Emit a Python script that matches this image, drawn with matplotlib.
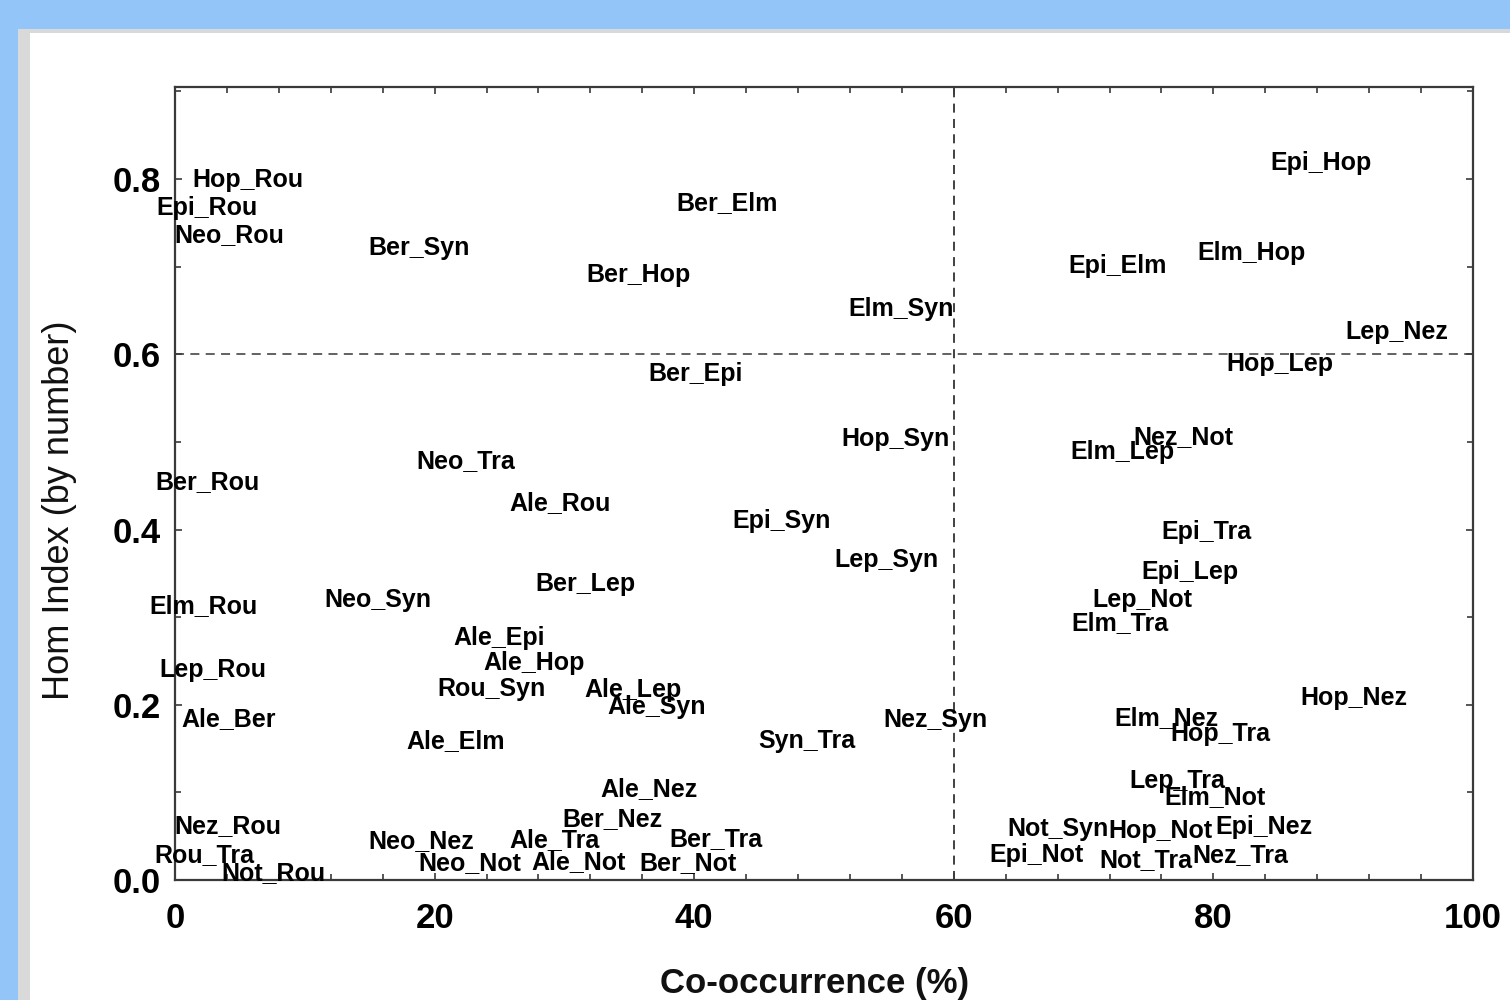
import matplotlib
matplotlib.use("Agg")
import matplotlib.pyplot as plt
from matplotlib.patches import Rectangle
from matplotlib.ticker import MultipleLocator
from matplotlib.transforms import ScaledTranslation

# ---- data: species pair labels, co-occurrence (%) and Hom index ----
pairs = ["Hop_Rou", "Epi_Rou", "Neo_Rou", "Ber_Syn", "Ber_Elm", "Ber_Hop", "Elm_Syn",
         "Ber_Epi", "Hop_Syn", "Epi_Syn", "Lep_Syn", "Ber_Lep", "Ale_Lep", "Ale_Syn",
         "Neo_Tra", "Ber_Rou", "Elm_Rou", "Neo_Syn", "Lep_Rou", "Ale_Ber", "Ale_Rou",
         "Ale_Epi", "Ale_Hop", "Rou_Syn", "Ale_Elm", "Nez_Rou", "Rou_Tra", "Not_Rou",
         "Neo_Nez", "Neo_Not", "Ale_Tra", "Ale_Not", "Ale_Nez", "Ber_Nez", "Ber_Tra",
         "Ber_Not", "Syn_Tra", "Nez_Syn", "Elm_Nez", "Hop_Tra", "Lep_Tra", "Elm_Not",
         "Not_Syn", "Hop_Not", "Epi_Nez", "Epi_Not", "Not_Tra", "Nez_Tra", "Hop_Nez",
         "Nez_Not", "Elm_Lep", "Epi_Tra", "Epi_Lep", "Lep_Not", "Elm_Tra", "Epi_Hop",
         "Elm_Hop", "Epi_Elm", "Lep_Nez", "Hop_Lep"]

co_occurrence = [5.6, 2.5, 4.2, 18.8, 42.5, 35.7, 55.9,
                 40.1, 55.5, 46.7, 54.8, 31.6, 35.3, 37.1,
                 22.4, 2.5, 2.2, 15.6, 2.9, 4.1, 29.7,
                 25.0, 27.7, 24.4, 21.6, 4.1, 2.3, 7.6,
                 19.0, 22.7, 29.2, 31.1, 36.5, 33.7, 41.7,
                 39.5, 48.7, 58.6, 76.4, 80.5, 77.2, 80.1,
                 68.0, 75.9, 83.9, 66.4, 74.8, 82.1, 90.8,
                 77.7, 73.0, 79.5, 78.2, 74.5, 72.8, 88.3,
                 82.9, 72.6, 94.1, 85.1]

hom_index = [0.802, 0.770, 0.739, 0.724, 0.775, 0.693, 0.655,
             0.580, 0.506, 0.413, 0.368, 0.341, 0.220, 0.200,
             0.481, 0.457, 0.316, 0.322, 0.243, 0.187, 0.433,
             0.279, 0.251, 0.221, 0.162, 0.064, 0.031, 0.011,
             0.047, 0.022, 0.048, 0.023, 0.107, 0.073, 0.050,
             0.022, 0.162, 0.185, 0.188, 0.169, 0.116, 0.097,
             0.061, 0.059, 0.063, 0.031, 0.026, 0.031, 0.211,
             0.508, 0.491, 0.400, 0.354, 0.322, 0.296, 0.821,
             0.718, 0.704, 0.628, 0.592]

x_ticks = [0, 20, 40, 60, 80, 100]
y_ticks = [0.0, 0.2, 0.4, 0.6, 0.8]
x_cut = 60
y_cut = 0.6

FW, FH = 1510, 1000
fig = plt.figure(figsize=(FW / 100, FH / 100), dpi=100)
fig.patch.set_facecolor("white")

blue = "#93C5F8"
grey = "#D9D9D9"
# slide frame
fig.add_artist(Rectangle((0, 1 - 29 / FH), 1, 29 / FH, transform=fig.transFigure,
                         facecolor=blue, edgecolor="none", zorder=0))
fig.add_artist(Rectangle((0, 0), 18 / FW, 1, transform=fig.transFigure,
                         facecolor=blue, edgecolor="none", zorder=0))
fig.add_artist(Rectangle((18 / FW, 0), 12 / FW, 1 - 29 / FH, transform=fig.transFigure,
                         facecolor=grey, edgecolor="none", zorder=0))
fig.add_artist(Rectangle((18 / FW, 1 - 33 / FH), 1 - 18 / FW, 4 / FH,
                         transform=fig.transFigure,
                         facecolor=grey, edgecolor="none", zorder=0))

ax = fig.add_axes([175 / FW, (FH - 880) / FH, (1473 - 175) / FW, (880 - 87) / FH])
ax.set_facecolor("white")
ax.set_xlim(0, 100)
ax.set_ylim(0, 0.905)

for s in ax.spines.values():
    s.set_color("#3a3a3a")
    s.set_linewidth(1.6)

ax.set_xticks(x_ticks)
ax.set_yticks(y_ticks)
ax.xaxis.set_minor_locator(MultipleLocator(4))
ax.yaxis.set_minor_locator(MultipleLocator(0.1))
ax.set_xticklabels([f"{v:d}" for v in x_ticks])
ax.set_yticklabels([f"{v:.1f}" for v in y_ticks])
ax.tick_params(which="both", direction="in", top=True, right=True,
               color="#3a3a3a", width=1.2)
ax.tick_params(which="major", length=5)
ax.tick_params(which="minor", length=4)
ax.tick_params(axis="x", which="major", pad=16)
ax.tick_params(axis="y", which="major", pad=10)
for lab in ax.get_xticklabels() + ax.get_yticklabels():
    lab.set_fontfamily("Liberation Sans")
    lab.set_fontweight("bold")
    lab.set_fontsize(25)
    lab.set_color("black")

ax.axvline(x_cut, color="#333333", linestyle=(0, (5, 3.5)), linewidth=1.3, zorder=1)
ax.axhline(y_cut, color="#555555", linestyle=(0, (5, 3.5)), linewidth=1.3, zorder=1)

label_tr = ax.transData + ScaledTranslation(0, -2.5 / 100, fig.dpi_scale_trans)
for name, xv, yv in zip(pairs, co_occurrence, hom_index):
    ax.text(xv, yv, name, ha="center", va="center", fontsize=18,
            fontweight="bold", family="Liberation Sans", color="black",
            clip_on=False, zorder=3, transform=label_tr)

fig.text(815 / FW, 1 - 983 / FH, "Co-occurrence (%)", ha="center", va="center",
         fontsize=25, fontweight="bold", family="Liberation Sans", color="#111111")
fig.text(60 / FW, 1 - 510 / FH, "Hom Index (by number)", ha="center", va="center",
         rotation=90, fontsize=26, family="Liberation Sans", color="#111111")

fig.savefig("out.png", dpi=100)
